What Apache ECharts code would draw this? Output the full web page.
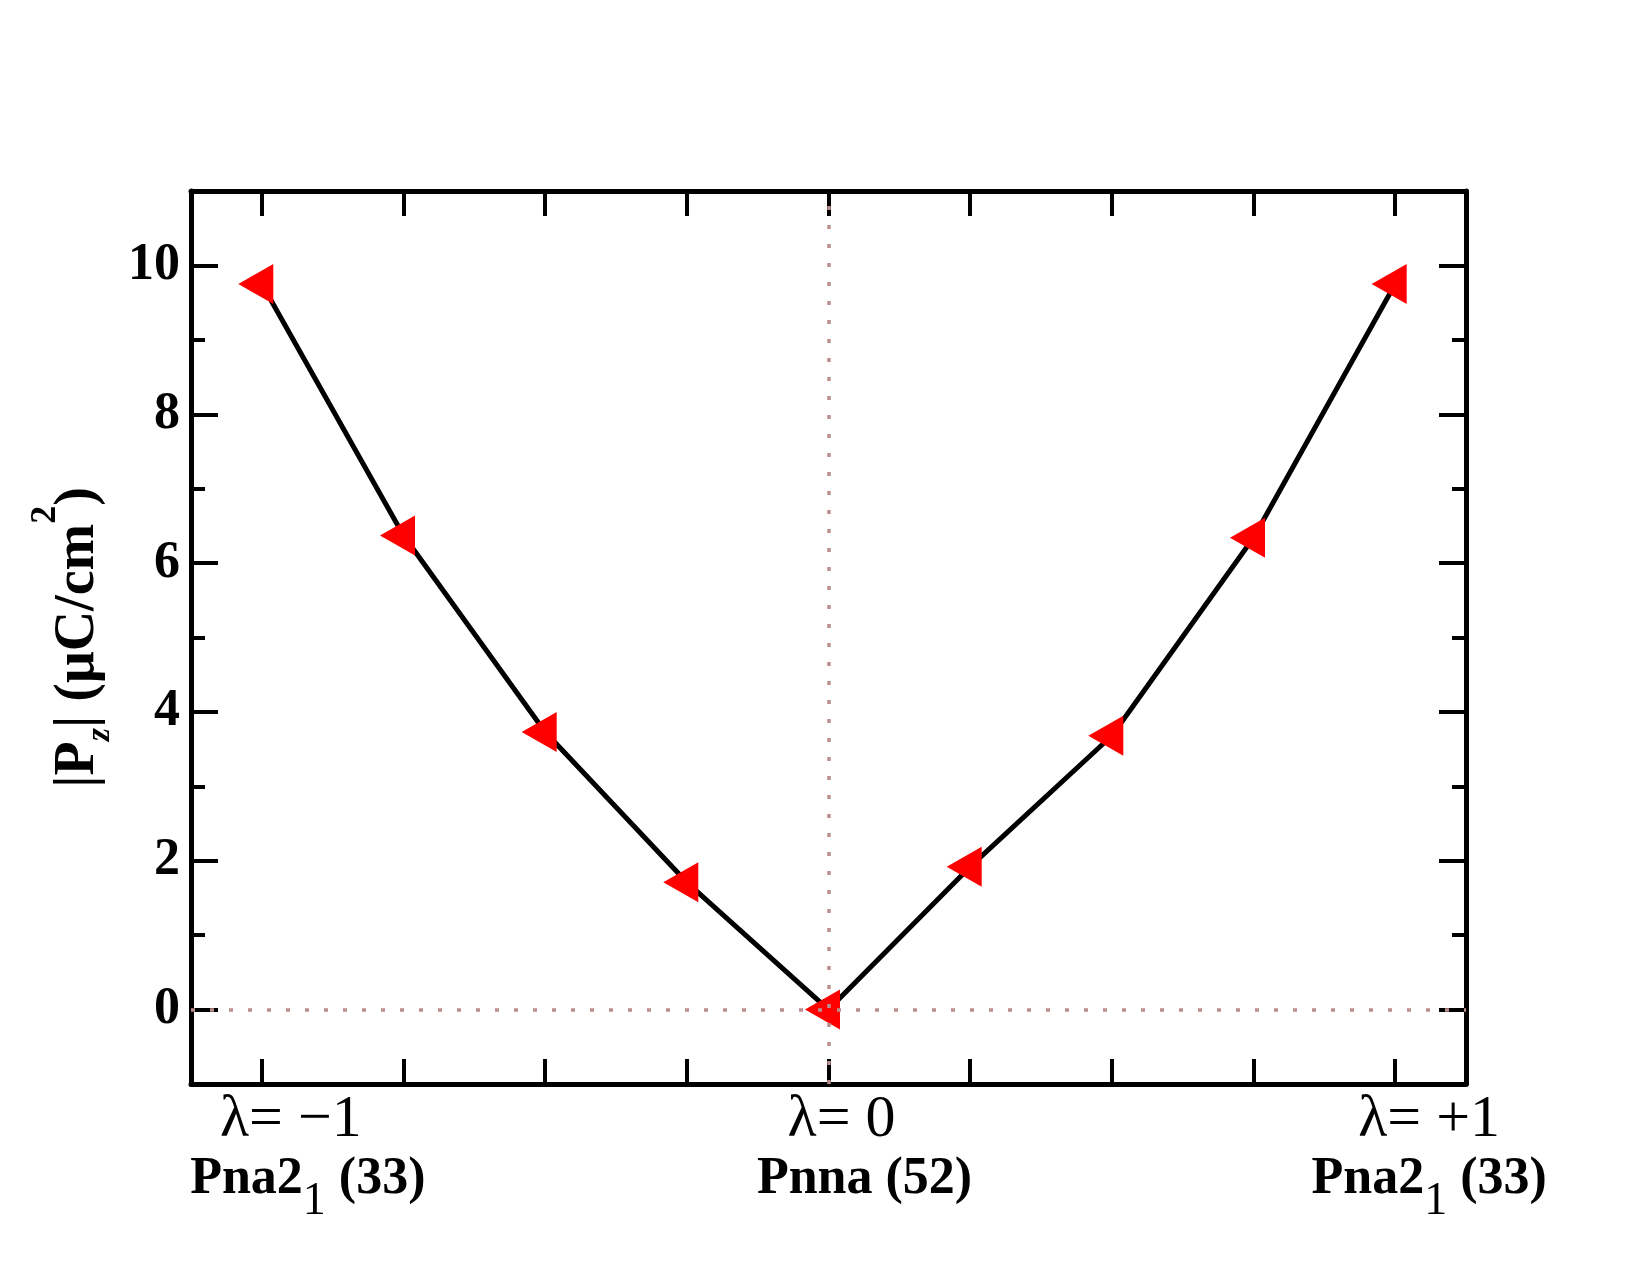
<!DOCTYPE html>
<html>
<head>
<meta charset="utf-8">
<script src="https://cdn.jsdelivr.net/npm/echarts@6/dist/echarts.min.js"></script>
<style>
html, body { margin: 0; padding: 0; background: #fff; }
#chart { width: 1650px; height: 1275px; }
</style>
</head>
<body>
<div id="chart"></div>
<script>
// 数据
var lambdaVals = [-1, -0.75, -0.5, -0.25, 0, 0.25, 0.5, 0.75, 1];
var pzVals = [9.75, 6.37, 3.73, 1.71, 0, 1.92, 3.68, 6.34, 9.75];
var yMajor = [0, 2, 4, 6, 8, 10];
var yMinor = [1, 3, 5, 7, 9];
var labelAt = [-1, 0, 1];
var lambdaLabels = ['λ= −1', 'λ= 0', 'λ= +1'];
var phaseLabels = ['{b|Pna2}{s|1}{b| (33)}', '{b|Pnna (52)}', '{b|Pna2}{s|1}{b| (33)}'];

var serif = "'Liberation Serif', 'Times New Roman', serif";
var myChart = echarts.init(document.getElementById('chart'));

function xAx(pos) {
	return {
		type: 'value',
		position: pos,
		min: -1.125,
		max: 1.125,
		axisLine: { show: true, onZero: false, lineStyle: { color: '#000', width: 5 } },
		axisTick: { show: true, inside: true, length: 25, customValues: lambdaVals, lineStyle: { color: '#000', width: 4 } },
		axisLabel: { show: false },
		splitLine: { show: false }
	};
}

function yAx(pos, ticks, len, line) {
	return {
		type: 'value',
		position: pos,
		min: -1,
		max: 11,
		axisLine: { show: line, onZero: false, lineStyle: { color: '#000', width: 5 } },
		axisTick: { show: true, inside: true, length: len, customValues: ticks, lineStyle: { color: '#000', width: 4 } },
		axisLabel: { show: false },
		splitLine: { show: false }
	};
}

var yMain = yAx('left', yMajor, 27, true);
yMain.axisLabel = {
	show: true,
	customValues: yMajor,
	margin: 11,
	color: '#000',
	fontFamily: serif,
	fontSize: 52,
	fontWeight: 'bold'
};
yMain.name = '{t||}{t|P}{sub|z}{t|| (μC/cm}{sup|2}{t|)}';
yMain.nameLocation = 'middle';
yMain.nameRotate = 90;
yMain.nameGap = 61;
yMain.nameTextStyle = {
	color: '#000',
	fontFamily: serif,
	fontSize: 56,
	fontWeight: 'bold',
	rich: {
		t: { fontFamily: serif, fontSize: 56, fontWeight: 'bold', color: '#000', lineHeight: 100 },
		sub: { fontFamily: serif, fontSize: 34, fontWeight: 'bold', fontStyle: 'italic', color: '#000', verticalAlign: 'bottom', padding: [0, 0, 11, 0] },
		sup: { fontFamily: serif, fontSize: 36, fontWeight: 'bold', color: '#000', verticalAlign: 'top' }
	}
};

myChart.setOption({
	animation: false,
	backgroundColor: '#fff',
	grid: { left: 191, right: 184, top: 191, bottom: 191 },
	xAxis: [xAx('bottom'), xAx('top')],
	yAxis: [
		yMain,
		yAx('right', yMajor, 27, true),
		yAx('left', yMinor, 14, false),
		yAx('right', yMinor, 14, false)
	],
	series: [{
		type: 'line',
		data: lambdaVals.map(function (x, i) { return [x, pzVals[i]]; }),
		lineStyle: { color: '#000', width: 5 },
		itemStyle: { color: '#ff0000' },
		symbol: 'triangle',
		symbolSize: [40, 35],
		symbolRotate: 90,
		symbolOffset: [-6, 0],
		showAllSymbol: true,
		z: 3,
		markLine: {
			silent: true,
			symbol: ['none', 'none'],
			label: { show: false },
			emphasis: { disabled: true },
			lineStyle: { color: '#bc8f8f', width: 3.5, type: [4, 15] },
			data: [{ xAxis: 0 }, { yAxis: 0 }]
		}
	}]
});

// 底部标注
function placeLabels() {
	var lamShift = [29, 13, 34];
	var phaseShift = [46, 36, 34];
	var bottomY = myChart.convertToPixel({ yAxisIndex: 0 }, -1);
	var g = [];
	for (var i = 0; i < labelAt.length; i++) {
		var px = myChart.convertToPixel({ xAxisIndex: 0 }, labelAt[i]);
		g.push({
			type: 'text',
			x: px + lamShift[i],
			y: bottomY + 36,
			style: {
				text: lambdaLabels[i],
				fontFamily: serif,
				fontSize: 60,
				fill: '#000',
				align: 'center',
				verticalAlign: 'middle'
			}
		});
		g.push({
			type: 'text',
			x: px + phaseShift[i],
			y: bottomY + 96,
			style: {
				text: phaseLabels[i],
				align: 'center',
				verticalAlign: 'middle',
				rich: {
					b: { fontFamily: serif, fontSize: 52, fontWeight: 'bold', fill: '#000', lineHeight: 90 },
					s: { fontFamily: serif, fontSize: 46, fill: '#000', verticalAlign: 'bottom' }
				}
			}
		});
	}
	myChart.setOption({ graphic: g });
}
placeLabels();
</script>
</body>
</html>
